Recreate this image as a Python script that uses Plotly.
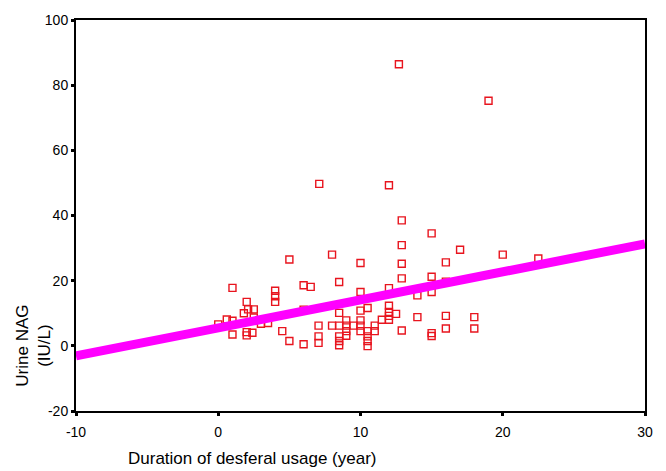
import plotly.graph_objects as go

# Scatter data: duration (years) and urine NAG (IU/L)
duration = [
    0.0, 0.6, 1.0, 1.0, 1.0, 2.0, 2.1, 2.5, 1.8, 2.5, 2.0, 2.0, 2.4,
    3.0, 3.5, 4.0, 4.0, 4.0, 4.5, 5.0, 5.0, 6.0, 6.5, 6.0, 6.0,
    7.1, 7.05, 7.05, 7.05, 8.0, 8.0, 8.5, 8.5, 8.5, 8.5, 8.5, 8.5,
    9.0, 9.0, 9.0, 9.0, 9.5, 10.0, 10.0, 10.0, 10.5, 10.0, 10.0, 10.0,
    10.5, 10.5, 10.5, 10.5, 11.0, 11.0, 11.5, 12.0, 12.0, 12.0, 12.0,
    12.0, 12.0, 12.5, 12.7, 12.9, 12.9, 12.9, 12.9, 12.9, 14.0, 14.0,
    15.0, 15.0, 15.0, 15.0, 15.0, 16.0, 16.0, 16.0, 16.0, 17.0, 18.0,
    18.0, 19.0, 20.0, 22.5,
]
nag = [
    6.6, 8.1, 7.7, 17.8, 3.5, 13.5, 11.2, 11.2, 10.0, 8.7, 4.2, 3.2, 4.0,
    6.8, 7.0, 16.9, 15.2, 13.5, 4.5, 1.5, 26.5, 18.6, 18.1, 11.1, 0.5,
    49.7, 6.2, 2.9, 0.9, 28.0, 6.2, 19.6, 10.1, 6.2, 2.9, 1.5, 0.2,
    7.8, 6.2, 4.5, 3.1, 6.2, 25.4, 16.5, 10.8, 11.6, 7.8, 6.2, 4.5,
    4.5, 2.9, 1.5, -0.1, 6.2, 4.5, 8.0, 49.3, 17.7, 12.3, 10.4, 9.2,
    8.0, 9.8, 86.4, 38.5, 30.9, 25.2, 20.7, 4.7, 15.5, 8.8,
    34.5, 21.2, 16.5, 3.9, 3.0, 25.6, 19.7, 9.2, 5.3, 29.5, 8.8,
    5.3, 75.2, 28.0, 26.8,
]

# Fitted line endpoints
fit_x = [-10, 30]
fit_y = [-3.1, 31.3]

x_ticks = [-10, 0, 10, 20, 30]
y_ticks = [-20, 0, 20, 40, 60, 80, 100]

font_family = "Liberation Sans, Arial, sans-serif"

fig = go.Figure()
fig.add_trace(go.Scatter(
    x=duration, y=nag, mode="markers",
    marker=dict(symbol="square-open", size=7, color="#e8141e",
                line=dict(width=1.4, color="#e8141e")),
    showlegend=False, cliponaxis=False,
))
fig.add_trace(go.Scatter(
    x=fit_x, y=fit_y, mode="lines",
    line=dict(color="#ff00ff", width=9),
    showlegend=False,
))

axis_common = dict(
    showgrid=False, zeroline=False, showline=True, linecolor="black",
    linewidth=2, mirror=True, ticks="outside", ticklen=3, tickwidth=3,
    tickcolor="black", tickfont=dict(size=14),
)

fig.update_layout(
    width=666, height=471,
    margin=dict(l=76, r=21, t=15, b=60),
    paper_bgcolor="white", plot_bgcolor="white",
    font=dict(family=font_family, color="black", size=14),
    xaxis=dict(range=[-10, 30], tickvals=x_ticks,
               ticktext=[str(v) for v in x_ticks], ticklabelstandoff=4,
               **axis_common),
    yaxis=dict(range=[-20, 100], tickvals=y_ticks,
               ticktext=[str(v) for v in y_ticks], **axis_common),
    annotations=[
        dict(text="Duration of desferal usage (year)", xref="paper", yref="paper",
             x=0.311, y=0, xanchor="center", yanchor="middle", yshift=-47,
             showarrow=False, font=dict(size=17)),
        dict(text="Urine NAG<br>(IU/L)", xref="paper", yref="paper",
             x=0, y=0.167, xanchor="center", yanchor="middle", xshift=-42,
             textangle=-90, showarrow=False, font=dict(size=17)),
    ],
)

fig.write_html("out.html", config={"displayModeBar": False},
               post_script="document.body.style.margin='0px';")
